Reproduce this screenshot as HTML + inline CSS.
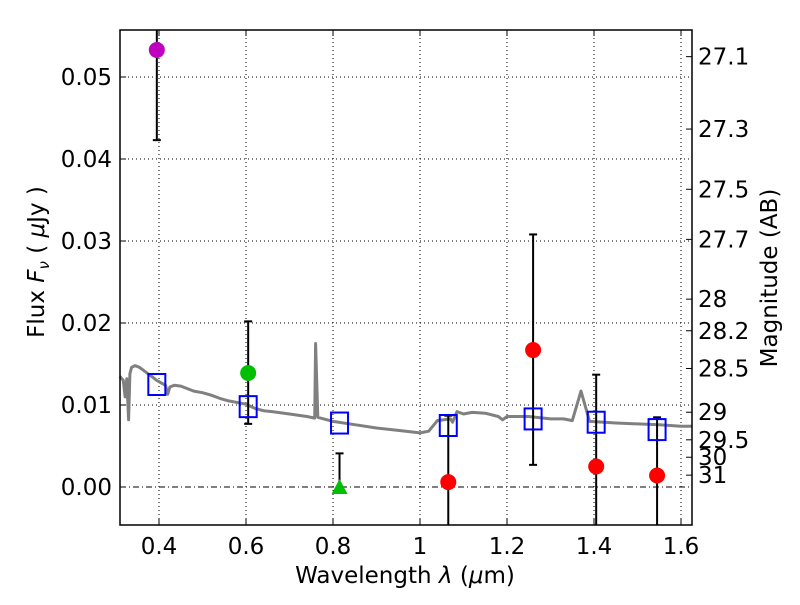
<!DOCTYPE html>
<html><head><meta charset="utf-8"><style>
body{margin:0;background:#fff;}
svg text{font-family:"DejaVu Sans","Liberation Sans",sans-serif;}
</style></head><body>
<svg id="chart" width="800" height="600" xmlns="http://www.w3.org/2000/svg">
<rect width="800" height="600" fill="#fff"/>
<g id="grid"></g>
<g id="marks"></g>
<g id="axes"></g>
<text x="405" y="583" font-size="23" text-anchor="middle">Wavelength  <tspan font-style="italic">λ</tspan> (<tspan font-style="italic">μ</tspan>m)</text>
<text transform="translate(44,262) rotate(-90)" font-size="23" text-anchor="middle">Flux  <tspan font-style="italic">F</tspan><tspan font-style="italic" font-size="15" dy="5">ν</tspan><tspan dy="-5">  ( </tspan><tspan font-style="italic">μ</tspan>Jy )</text>
<text transform="translate(777,278) rotate(-90)" font-size="23" text-anchor="middle">Magnitude (AB)</text>
</svg>
<script>
const xTicks=[0.4,0.6,0.8,1.0,1.2,1.4,1.6];
const xTickLabels=["0.4","0.6","0.8","1","1.2","1.4","1.6"];
const yTicks=[0,0.01,0.02,0.03,0.04,0.05];
const yTickLabels=["0.00","0.01","0.02","0.03","0.04","0.05"];
const magTicks=[27.1,27.3,27.5,27.7,28,28.2,28.5,29,29.5,30,31];
const specW=[0.31,0.318,0.322,0.326,0.33,0.333,0.337,0.345,0.355,0.365,0.375,0.385,0.395,0.405,0.415,0.42,0.425,0.435,0.45,0.465,0.48,0.5,0.52,0.54,0.56,0.58,0.6,0.62,0.64,0.66,0.7,0.74,0.758,0.76,0.765,0.8,0.85,0.9,0.95,1.0,1.02,1.04,1.07,1.075,1.085,1.1,1.12,1.15,1.18,1.19,1.2,1.25,1.3,1.33,1.35,1.37,1.39,1.45,1.5,1.55,1.6,1.625];
const specF=[0.0135,0.013,0.011,0.0132,0.0082,0.0138,0.0146,0.0148,0.0146,0.0142,0.0138,0.0134,0.013,0.0127,0.0124,0.0113,0.0122,0.0124,0.0123,0.012,0.0117,0.0115,0.0112,0.0108,0.0105,0.0103,0.0101,0.0096,0.0093,0.0092,0.0089,0.0086,0.0084,0.0175,0.0085,0.008,0.0076,0.0072,0.0069,0.0066,0.0068,0.0081,0.0083,0.0079,0.0092,0.0089,0.0091,0.009,0.0086,0.0082,0.0086,0.0086,0.0083,0.0083,0.0081,0.0117,0.008,0.0078,0.0077,0.0076,0.0074,0.0074];
const sqW=[0.395,0.605,0.815,1.065,1.26,1.405,1.545];
const sqF=[0.0125,0.0098,0.0078,0.0075,0.0083,0.0079,0.007];
const ptW=[0.395,0.605,0.815,1.065,1.26,1.405,1.545];
const ptF=[0.0533,0.0139,0.0000,0.0006,0.0167,0.0025,0.0014];
const ptLo=[0.0423,0.0077,0.0000,-0.01,0.0027,-0.01,-0.01];
const ptHi=[0.07,0.0202,0.0041,0.0087,0.0308,0.0137,0.0085];
const ptColor=["#bf00bf","#00bf00","#00bf00","#ff0000","#ff0000","#ff0000","#ff0000"];
const ptShape=["circle","circle","triangle","circle","circle","circle","circle"];

const L=120,R=692,T=30,B=525;
const x=w=>159+(w-0.4)*435;
const y=f=>487-f*8200;
const NS="http://www.w3.org/2000/svg";
function mk(tag,attrs,parent){const e=document.createElementNS(NS,tag);for(const k in attrs)e.setAttribute(k,attrs[k]);parent.appendChild(e);return e;}
const grid=document.getElementById('grid'),marks=document.getElementById('marks'),axes=document.getElementById('axes');
xTicks.forEach((t,i)=>{
 const g=mk('line',{x1:x(t),x2:x(t),y1:T,y2:B,stroke:'#000','stroke-width':1,'stroke-dasharray':'1,3'},grid);
 
 
 mk('line',{x1:x(t),x2:x(t),y1:B,y2:B-6,stroke:'#000'},axes);
 mk('line',{x1:x(t),x2:x(t),y1:T,y2:T+6,stroke:'#000'},axes);
 const tx=mk('text',{x:x(t),y:554,'font-size':23,'text-anchor':'middle'},axes);tx.textContent=xTickLabels[i];
 
 
});
yTicks.forEach((t,i)=>{
 const g=mk('line',{x1:L,x2:R,y1:y(t),y2:y(t),stroke:'#000','stroke-width':1,'stroke-dasharray':t===0?'6,3,1,3':'1,3'},grid);
 
 
 mk('line',{x1:L,x2:L+6,y1:y(t),y2:y(t),stroke:'#000'},axes);
 const tx=mk('text',{x:112,y:y(t)+8,'font-size':23,'text-anchor':'end'},axes);tx.textContent=yTickLabels[i];
 
 
});
magTicks.forEach(m=>{
 const f=Math.pow(10,(23.9-m)/2.5);const yy=y(f);
 mk('line',{x1:R,x2:R-6,y1:yy,y2:yy,stroke:'#000'},axes);
 const tx=mk('text',{x:698,y:yy+8,'font-size':23},axes);tx.textContent=String(m);
 
 
});
let d='';specW.forEach((w,i)=>{d+=(i?'L':'M')+x(w).toFixed(1)+','+y(specF[i]).toFixed(1);});
const sp=mk('path',{d:d,fill:'none',stroke:'#808080','stroke-width':3,'stroke-linejoin':'round'},marks);


ptW.forEach((w,i)=>{
 const hi=Math.min(ptHi[i],0.0557),lo=Math.max(ptLo[i],-0.0046);
 const eb=mk('line',{x1:x(w),x2:x(w),y1:y(lo),y2:y(hi),stroke:'#000','stroke-width':2},marks);
 
 
 if(ptHi[i]<0.0557)mk('line',{x1:x(w)-4,x2:x(w)+4,y1:y(ptHi[i]),y2:y(ptHi[i]),stroke:'#000','stroke-width':2},marks);
 if(ptLo[i]>-0.0046)mk('line',{x1:x(w)-4,x2:x(w)+4,y1:y(ptLo[i]),y2:y(ptLo[i]),stroke:'#000','stroke-width':2},marks);
});
sqW.forEach((w,i)=>{
 const s=mk('rect',{x:x(w)-8.5,y:y(sqF[i])-10.5,width:17,height:21,fill:'none',stroke:'#0000ff','stroke-width':2},marks);
 
 
});
ptW.forEach((w,i)=>{
 let e;
 if(ptShape[i]==='triangle'){const cx=x(w),cy=y(ptF[i]);e=mk('polygon',{points:`${cx},${cy-8} ${cx+8},${cy+7} ${cx-8},${cy+7}`,fill:ptColor[i]},marks);}
 else e=mk('circle',{cx:x(w),cy:y(ptF[i]),r:8,fill:ptColor[i]},marks);
 
 
});
mk('rect',{x:L,y:T,width:R-L,height:B-T,fill:'none',stroke:'#000','stroke-width':1.5},axes);
</script>
</body></html>
